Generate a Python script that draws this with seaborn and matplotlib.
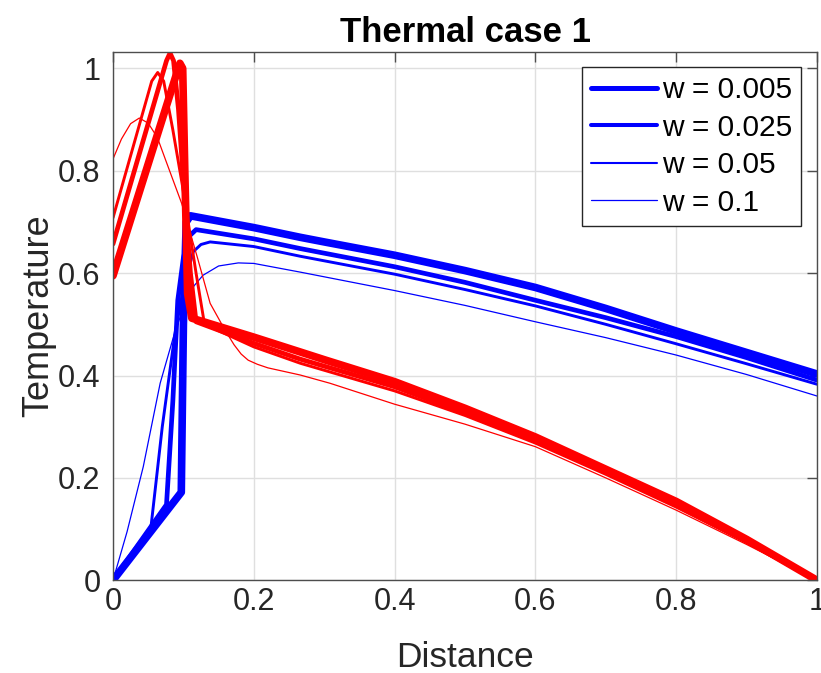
import matplotlib
matplotlib.use("Agg")
import matplotlib.pyplot as plt
import seaborn as sns
import pandas as pd

# ---------------- data ----------------
legend_labels = ["w = 0.005", "w = 0.025", "w = 0.05", "w = 0.1"]

# blue curves
bx_005 = [0, 0.097, 0.100, 0.104, 0.110, 0.2, 0.266, 0.3, 0.4, 0.5, 0.6, 0.7, 0.8, 0.9, 1.0]
by_005 = [0, 0.172, 0.50, 0.700, 0.712, 0.689, 0.670, 0.661, 0.635, 0.605, 0.572, 0.531, 0.487, 0.445, 0.403]

bx_025 = [0, 0.076, 0.085, 0.092, 0.100, 0.108, 0.118, 0.2, 0.266, 0.4, 0.5, 0.6, 0.7, 0.8, 0.9, 1.0]
by_025 = [0, 0.148, 0.35, 0.547, 0.630, 0.672, 0.685, 0.667, 0.648, 0.6125, 0.582, 0.547, 0.513, 0.476, 0.435, 0.391]

bx_05 = [0, 0.054, 0.070, 0.088, 0.100, 0.114, 0.125, 0.138, 0.2, 0.266, 0.4, 0.5, 0.6, 0.7, 0.8, 0.9, 1.0]
by_05 = [0, 0.105, 0.30, 0.482, 0.570, 0.642, 0.656, 0.661, 0.652, 0.633, 0.598, 0.568, 0.536, 0.500, 0.462, 0.423, 0.383]

bx_1 = [0, 0.020, 0.043, 0.067, 0.086, 0.102, 0.115, 0.128, 0.150, 0.178, 0.2, 0.266, 0.4, 0.5, 0.6, 0.7, 0.8, 0.9, 1.0]
by_1 = [0, 0.095, 0.222, 0.385, 0.476, 0.541, 0.575, 0.596, 0.614, 0.620, 0.619, 0.602, 0.566, 0.537, 0.505, 0.474, 0.440, 0.402, 0.360]

# red curves
rx_005 = [0, 0.095, 0.099, 0.102, 0.106, 0.112, 0.2, 0.266, 0.3, 0.4, 0.5, 0.6, 0.692, 0.8, 0.9, 1.0]
ry_005 = [0.595, 1.010, 1.000, 0.80, 0.56, 0.512, 0.475, 0.446, 0.431, 0.388, 0.336, 0.280, 0.222, 0.154, 0.080, 0.0]

rx_025 = [0, 0.076, 0.081, 0.086, 0.093, 0.100, 0.110, 0.118, 0.2, 0.266, 0.4, 0.5, 0.6, 0.7, 0.8, 0.9, 1.0]
ry_025 = [0.657, 1.015, 1.030, 1.015, 0.92, 0.78, 0.60, 0.505, 0.463, 0.432, 0.378, 0.327, 0.272, 0.212, 0.147, 0.076, 0.0]

rx_05 = [0, 0.055, 0.0635, 0.072, 0.085, 0.100, 0.118, 0.130, 0.2, 0.266, 0.4, 0.5, 0.6, 0.7, 0.8, 0.9, 1.0]
ry_05 = [0.708, 0.975, 0.992, 0.975, 0.88, 0.76, 0.60, 0.500, 0.456, 0.424, 0.370, 0.322, 0.268, 0.207, 0.143, 0.074, 0.0]

rx_1 = [0, 0.012, 0.025, 0.0374, 0.050, 0.063, 0.075, 0.0976, 0.120, 0.138, 0.159, 0.172, 0.182, 0.192, 0.205, 0.22, 0.266, 0.308, 0.4, 0.5, 0.6, 0.7, 0.8, 0.9, 1.0]
ry_1 = [0.823, 0.862, 0.892, 0.903, 0.893, 0.865, 0.820, 0.736, 0.630, 0.541, 0.489, 0.460, 0.442, 0.430, 0.422, 0.415, 0.401, 0.385, 0.344, 0.305, 0.261, 0.200, 0.137, 0.070, 0.0]

x_ticks = [0, 0.2, 0.4, 0.6, 0.8, 1]
y_ticks = [0, 0.2, 0.4, 0.6, 0.8, 1]
x_tick_labels = ["0", "0.2", "0.4", "0.6", "0.8", "1"]
y_tick_labels = ["0", "0.2", "0.4", "0.6", "0.8", "1"]

# ---------------- style ----------------
sns.set_style("white")
plt.rcParams["font.family"] = ["Liberation Sans", "DejaVu Sans"]
plt.rcParams["xtick.direction"] = "in"
plt.rcParams["ytick.direction"] = "in"

fig = plt.figure(figsize=(8.21, 6.73), dpi=100)
ax = fig.add_axes([113 / 821, 1 - 580.3 / 673, (817 - 113) / 821, (580.3 - 52) / 673])

blue_sets = [(bx_005, by_005, 5.5, 3.6), (bx_025, by_025, 3.4, 2.9),
             (bx_05, by_05, 2.1, 1.5), (bx_1, by_1, 0.9, 0.9)]
red_sets = [(rx_005, ry_005, 5.5), (rx_025, ry_025, 3.4),
            (rx_05, ry_05, 2.1), (rx_1, ry_1, 0.9)]

blue_handles = []
for (xs, ys, lw, _), lab in zip(blue_sets, legend_labels):
    df = pd.DataFrame({"Distance": xs, "Temperature": ys})
    sns.lineplot(data=df, x="Distance", y="Temperature", sort=False, estimator=None,
                 color=(0, 0, 1), linewidth=lw, ax=ax, legend=False)
    ax.lines[-1].set_label(lab)
    ax.lines[-1].set_solid_joinstyle("round")
    blue_handles.append(ax.lines[-1])

for xs, ys, lw in red_sets:
    df = pd.DataFrame({"Distance": xs, "Temperature": ys})
    sns.lineplot(data=df, x="Distance", y="Temperature", sort=False, estimator=None,
                 color=(1, 0, 0), linewidth=lw, ax=ax, legend=False)
    ax.lines[-1].set_solid_joinstyle("round")

ax.set_xlim(0, 1)
ax.set_ylim(0, 1.032)
ax.set_xticks(x_ticks)
ax.set_xticklabels(x_tick_labels)
ax.set_yticks(y_ticks)
ax.set_yticklabels(y_tick_labels)

axis_col = "#262626"
ax.tick_params(axis="both", which="both", direction="in", length=7, width=1,
               colors="#4d4d4d", labelcolor=axis_col, labelsize=22,
               top=True, right=True)
ax.tick_params(axis="x", pad=5)
ax.tick_params(axis="y", pad=9)
for s in ax.spines.values():
    s.set_visible(True)
    s.set_color("#4d4d4d")
    s.set_linewidth(1)
ax.grid(True, color="#dfdfdf", linewidth=1)
ax.set_axisbelow(True)

ax.set_xlabel("Distance", fontsize=25.5, color=axis_col, labelpad=17)
ax.set_ylabel("Temperature", fontsize=26, color=axis_col, labelpad=1)
ax.set_title("Thermal case 1", fontsize=25, fontweight="bold", color="black", pad=7)

leg = ax.legend(handles=blue_handles, labels=legend_labels, loc="upper right",
                bbox_to_anchor=(0.977, 0.9716), fontsize=21.5, frameon=True, fancybox=False,
                framealpha=1, edgecolor="#262626", handlelength=2.2, handletextpad=0.15,
                labelspacing=0.32, borderpad=0.3, borderaxespad=0)
leg.get_frame().set_linewidth(1)
for line, (_, _, _, llw) in zip(leg.get_lines(), blue_sets):
    line.set_linewidth(llw)
for t in leg.get_texts():
    t.set_color("black")

fig.savefig("out.png", dpi=100)
